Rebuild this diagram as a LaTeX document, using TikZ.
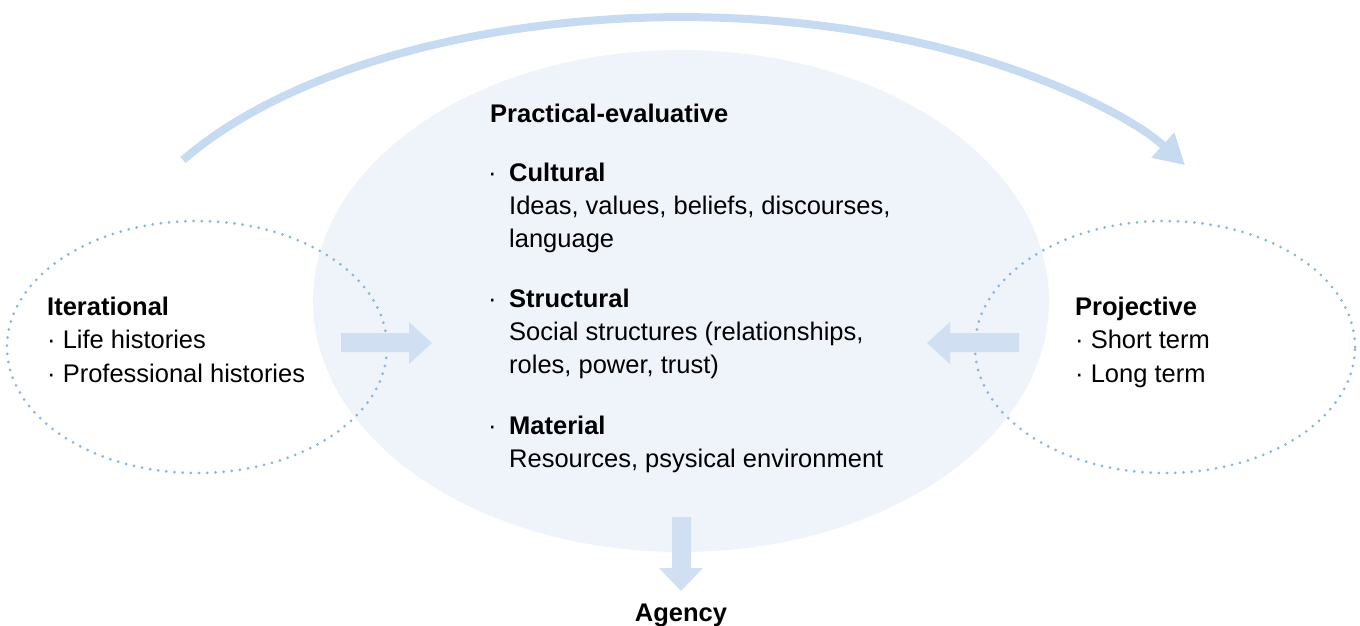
\documentclass[tikz,border=0pt]{standalone}
\usepackage{fontspec}
\setmainfont{Liberation Sans}
\usetikzlibrary{arrows.meta}
\definecolor{mainfill}{HTML}{EFF3FA}
\definecolor{dotc}{HTML}{88B3E2}
\definecolor{blockc}{HTML}{D0E0F2}
\definecolor{arcc}{HTML}{C6DAF1}
\tikzset{
  txt/.style={anchor=base west, inner sep=0pt, font=\fontsize{25.5}{34}\selectfont},
  hd/.style={txt, font=\fontsize{25.5}{34}\selectfont\bfseries},
  dotell/.style={draw=dotc, line width=3pt, line cap=round, dash pattern=on 0pt off 8.2pt},
  blockarrow/.style={fill=blockc, draw=none}
}
\begin{document}
\begin{tikzpicture}[x=1pt,y=1pt]
\useasboundingbox (0,0) rectangle (1360,-625);
% main ellipse
\fill[mainfill] (681,-301) ellipse[x radius=368, y radius=251];
% dotted ellipses
\draw[dotell] (197,-347) ellipse[x radius=190, y radius=126];
\draw[dotell] (1165,-347) ellipse[x radius=190, y radius=126];
% top arc arrow
\coordinate (arcstart) at (183,-160);
\draw[arcc, line width=8pt, -{Triangle[length=30pt,width=32pt]}]
  (arcstart) arc[start angle=150.2, end angle=28.6, x radius=574, y radius=284];
% block arrows
\fill[blockarrow] (341,-333) -- (409,-333) -- (409,-322) -- (432,-343) -- (409,-364) -- (409,-352) -- (341,-352) -- cycle;
\fill[blockarrow] (1019,-333) -- (950,-333) -- (950,-322) -- (927,-343) -- (950,-364) -- (950,-352) -- (1019,-352) -- cycle;
\fill[blockarrow] (672,-517) -- (691,-517) -- (691,-568) -- (703,-568) -- (681,-591) -- (659,-568) -- (672,-568) -- cycle;
% left block
\node[hd] (iter) at (47,-315) {Iterational};
\node[txt] (life) at (47,-348) {· Life histories};
\node[txt] (prof) at (47,-382) {· Professional histories};
% right block
\node[hd] (proj) at (1075,-315) {Projective};
\node[txt] (short) at (1075,-348) {· Short term};
\node[txt] (long) at (1075,-382) {· Long term};
% center
\node[hd] (pe) at (490,-122) {Practical-evaluative};
\node[txt] (b1) at (488,-181) {·};
\node[hd] (cult) at (509,-181) {Cultural};
\node[txt] (cult1) at (509,-214) {Ideas, values, beliefs, discourses,};
\node[txt] (cult2) at (509,-247.5) {language};
\node[txt] (b2) at (488,-307) {·};
\node[hd] (struc) at (509,-307) {Structural};
\node[txt] (struc1) at (509,-340) {Social structures (relationships,};
\node[txt] (struc2) at (509,-373.5) {roles, power, trust)};
\node[txt] (b3) at (488,-434) {·};
\node[hd] (mat) at (509,-434) {Material};
\node[txt] (mat1) at (509,-467) {Resources, psysical environment};
% agency
\node[hd, anchor=base] (agency) at (681,-621) {Agency};
\end{tikzpicture}
\end{document}
